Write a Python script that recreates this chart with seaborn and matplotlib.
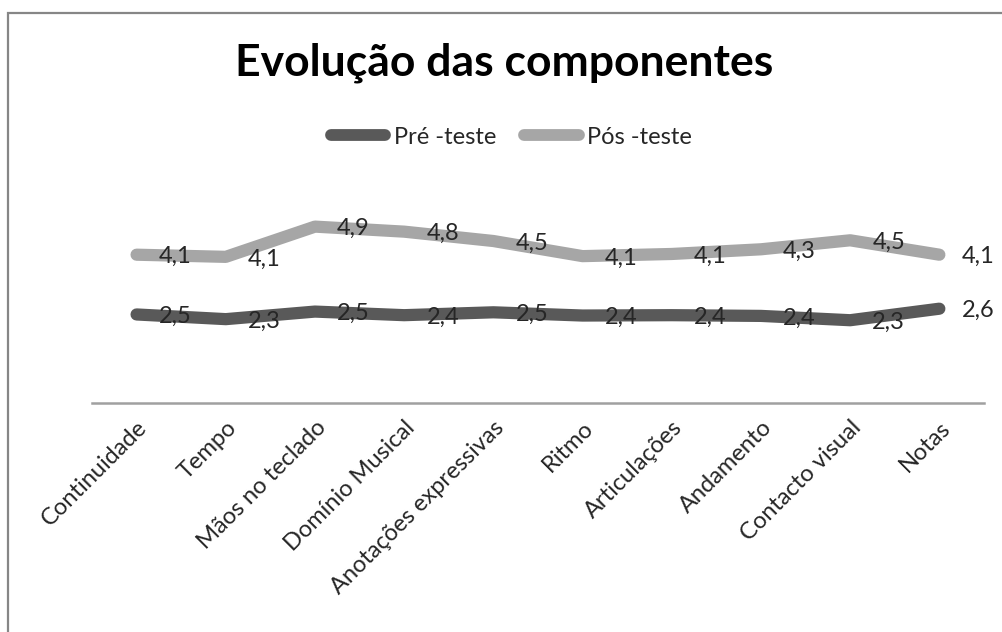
import matplotlib
matplotlib.use("Agg")
import matplotlib.pyplot as plt
import matplotlib.patches as mpatches
import pandas as pd
import seaborn as sns

componentes = [
    "Continuidade",
    "Tempo",
    "Mãos no teclado",
    "Domínio Musical",
    "Anotações expressivas",
    "Ritmo",
    "Articulações",
    "Andamento",
    "Contacto visual",
    "Notas",
]
pre_teste = [2.46, 2.33, 2.54, 2.44, 2.52, 2.43, 2.44, 2.42, 2.30, 2.62]
pos_teste = [4.12, 4.06, 4.90, 4.76, 4.50, 4.08, 4.14, 4.27, 4.52, 4.12]
series = ["Pré -teste", "Pós -teste"]
cores = ["#595959", "#a6a6a6"]


def main():
    df = pd.DataFrame(
        {
            "componente": componentes * 2,
            "valor": pre_teste + pos_teste,
            "serie": [series[0]] * len(componentes) + [series[1]] * len(componentes),
        }
    )

    sns.set_theme(style="white")
    plt.rcParams["font.family"] = ["Lato", "DejaVu Sans"]

    fig = plt.figure(figsize=(10.03, 6.32), dpi=100)
    ax = fig.add_axes([0.0917, 0.3623, 0.8893, 0.3418])

    sns.lineplot(
        data=df,
        x="componente",
        y="valor",
        hue="serie",
        hue_order=series,
        palette=cores,
        linewidth=8.8,
        sort=False,
        ax=ax,
        solid_capstyle="round",
        solid_joinstyle="round",
    )

    # rótulos de dados à direita de cada ponto
    for vals in [pre_teste, pos_teste]:
        for i, v in enumerate(vals):
            ax.annotate(
                f"{v:.1f}".replace(".", ","),
                xy=(i, v),
                xytext=(16, 0),
                textcoords="offset points",
                ha="left",
                va="center_baseline",
                fontsize=17,
                color="#262626",
            )

    ax.set_ylim(0, 6)
    ax.set_xlim(-0.5, len(componentes) - 0.5)
    ax.set_xlabel("")
    ax.set_ylabel("")
    ax.set_yticks([])
    ax.set_xticks(range(len(componentes)))
    ax.set_xticklabels(
        componentes, rotation=45, ha="right", rotation_mode="anchor", fontsize=17
    )
    ax.tick_params(axis="x", length=0, pad=10, colors="#262626")
    for s in ["top", "left", "right"]:
        ax.spines[s].set_visible(False)
    ax.spines["bottom"].set_color("#a0a0a0")
    ax.spines["bottom"].set_linewidth(1.8)
    ax.set_facecolor("none")

    handles, labels = ax.get_legend_handles_labels()
    ax.get_legend().remove()
    leg = fig.legend(
        handles,
        labels,
        loc="center",
        bbox_to_anchor=(0.51, 0.783),
        ncol=2,
        frameon=False,
        fontsize=17,
        handlelength=2.3,
        handletextpad=0.35,
        columnspacing=1.2,
    )
    for line, c in zip(leg.get_lines(), cores):
        line.set_linewidth(8.5)
        line.set_color(c)
        line.set_solid_capstyle("round")

    fig.text(
        0.503,
        0.90,
        "Evolução das componentes",
        ha="center",
        va="center",
        fontsize=32,
        fontweight="bold",
        color="black",
    )

    # moldura do gráfico (cortada à direita e em baixo)
    frame = mpatches.Rectangle(
        (8 / 1003, -0.1),
        1.2,
        1.0794,
        transform=fig.transFigure,
        fill=False,
        edgecolor="#868686",
        linewidth=1.6,
    )
    fig.add_artist(frame)

    fig.savefig("out.png", dpi=100)
    plt.close()


if __name__ == "__main__":
    main()
